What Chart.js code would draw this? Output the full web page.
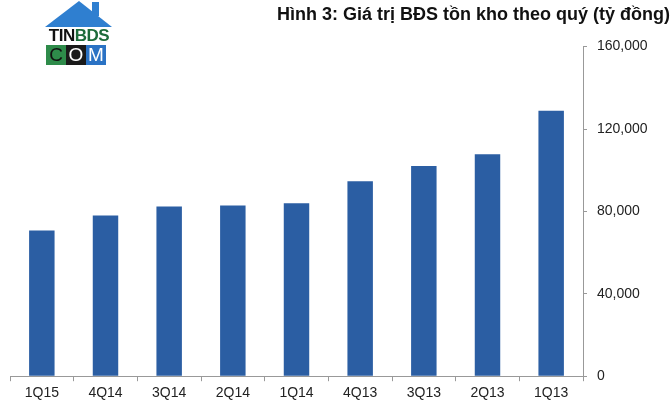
<!DOCTYPE html>
<html>
<head>
<meta charset="utf-8">
<script src="https://cdn.jsdelivr.net/npm/chart.js@4.4.0/dist/chart.umd.min.js"></script>
<style>
  body { margin: 0; background: #fff; }
  #wrap { position: relative; width: 670px; height: 410px; }
  #logo { position: absolute; left: 45px; top: 0; width: 68px; height: 66px; font-family: "Liberation Sans", Arial, sans-serif; }
  #logo .tin { position: absolute; top: 27px; left: 2px; width: 64px; font-size: 17px; font-weight: bold; letter-spacing: -0.5px; line-height: 18px; text-align: center; }
  #logo .com { position: absolute; top: 45px; left: 1px; display: flex; }
  #logo .com span { width: 20px; height: 20px; line-height: 20px; font-size: 19px; text-align: center; color: #fff; }
</style>
</head>
<body>
<div id="wrap">
  <canvas id="myChart" width="670" height="410"></canvas>
  <div id="logo">
    <svg width="68" height="28" style="position:absolute;left:0;top:0">
      <polygon points="0,27 34,1 67,27" fill="#2f7fd0"/>
      <rect x="47" y="2" width="7" height="14" fill="#2f7fd0"/>
    </svg>
    <div class="tin"><span style="color:#111">TIN</span><span style="color:#1d6b3a">BDS</span></div>
    <div class="com"><span style="background:#2e8b4a;color:#111">C</span><span style="background:#1a1a1a">O</span><span style="background:#2a72c4">M</span></div>
  </div>
</div>
<script>
var quarters = ['1Q13', '2Q13', '3Q13', '4Q13', '1Q14', '2Q14', '3Q14', '4Q14', '1Q15'];
var inventory = [128800, 107800, 102000, 94600, 83900, 82900, 82400, 78000, 70700];
var yTicks = [0, 40000, 80000, 120000, 160000];

var ctx = document.getElementById('myChart').getContext('2d');
var chart = new Chart(ctx, {
    type: 'bar',
    data: {
        labels: quarters,
        datasets: [{
            label: 'Giá trị BĐS tồn kho',
            backgroundColor: '#2b5ea3',
            data: inventory,
            categoryPercentage: 1,
            barPercentage: 0.4
        }]
    },
    options: {
        responsive: false,
        animation: false,
        layout: { padding: { left: 10, right: 0, top: 0, bottom: 4 } },
        plugins: {
            legend: { display: false },
            tooltip: { enabled: false },
            title: {
                display: true,
                text: 'Hình 3: Giá trị BĐS tồn kho theo quý (tỷ đồng)',
                align: 'end',
                color: '#111',
                font: { family: 'Liberation Sans', size: 18, weight: 'bold' },
                padding: { top: 4, bottom: 21 }
            }
        },
        scales: {
            x: {
                reverse: true,
                offset: true,
                grid: { offset: true, drawOnChartArea: false, tickLength: 5, color: '#999' },
                border: { color: '#999' },
                ticks: { color: '#222', padding: 4, font: { family: 'Liberation Sans', size: 14 } }
            },
            y: {
                position: 'right',
                min: 0,
                max: 160000,
                afterBuildTicks: function (axis) {
                    axis.ticks = yTicks.map(function (v) { return { value: v }; });
                },
                afterFit: function (axis) { axis.width = 87; },
                grid: { drawOnChartArea: false, tickLength: 4, color: '#999' },
                border: { color: '#999' },
                ticks: {
                    color: '#222',
                    padding: 10,
                    font: { family: 'Liberation Sans', size: 14 },
                    callback: function (v) { return v.toLocaleString('en-US'); }
                }
            }
        }
    }
});
</script>
</body>
</html>
